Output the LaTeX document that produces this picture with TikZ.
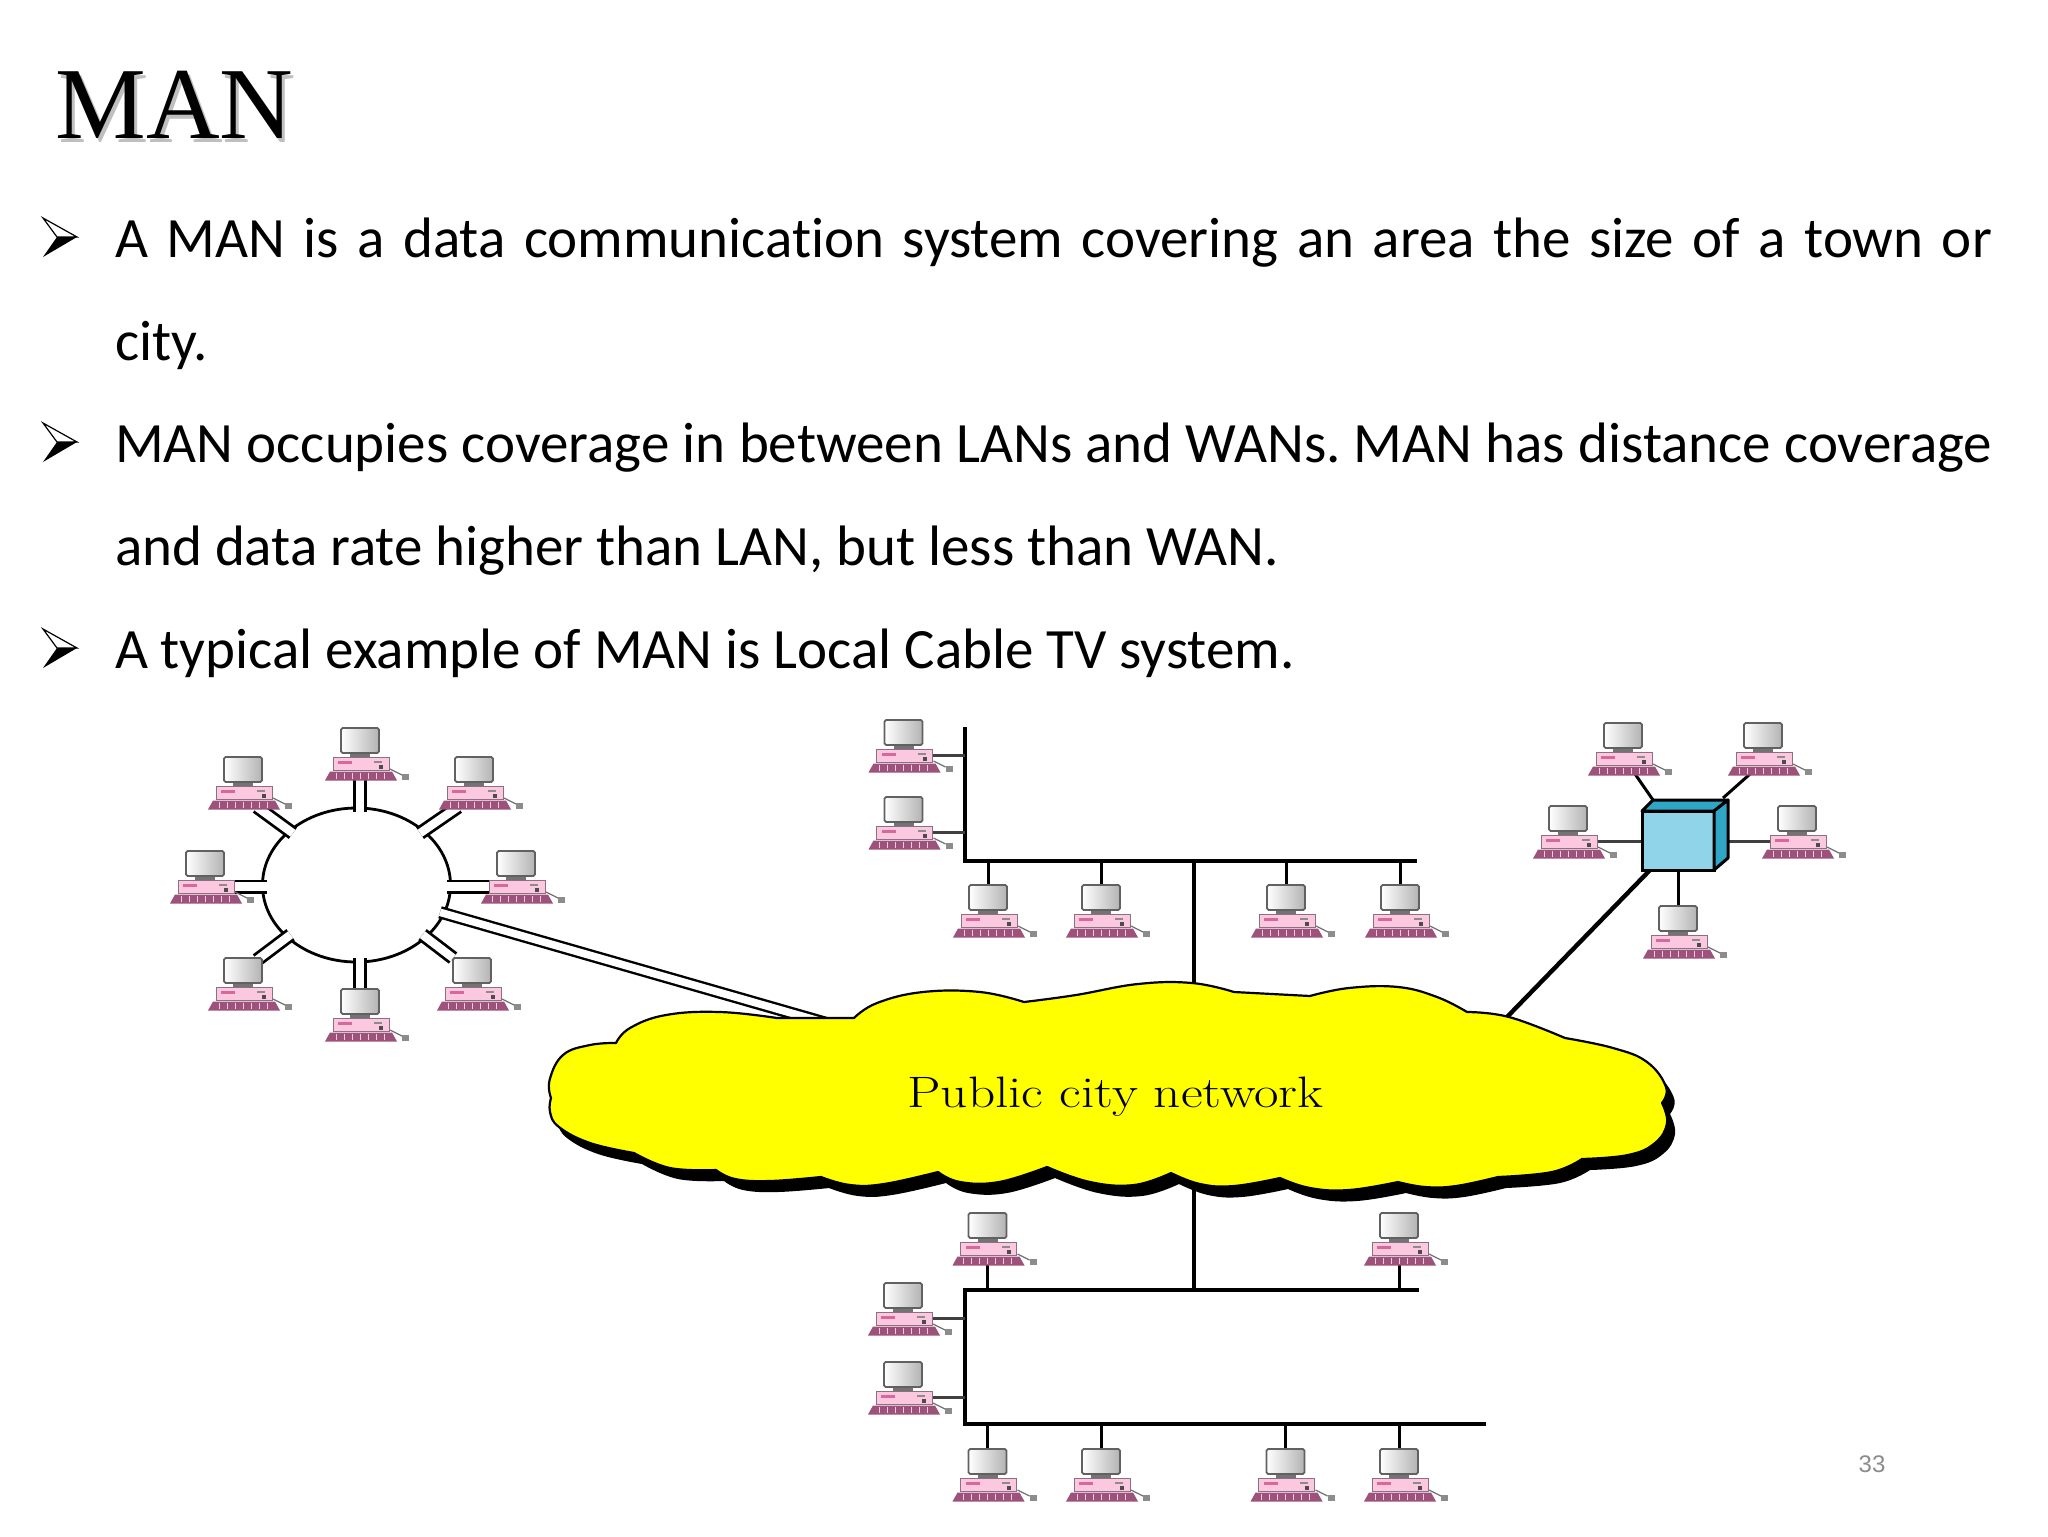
\documentclass[tikz,border=0pt]{standalone}
\usepackage{fontspec}
\usepackage{graphicx}
\setmainfont[Ligatures=NoCommon]{Carlito}
\newfontfamily\titlefont{Liberation Serif}
\newfontfamily\numfont{Liberation Sans}
\newfontfamily\lmfont{Latin Modern Roman}
\usetikzlibrary{shapes.geometric,backgrounds,calc}
\definecolor{kbdc}{HTML}{9C527A}
\definecolor{casec}{HTML}{FBC8E0}
\definecolor{caseb}{HTML}{8A7080}
\definecolor{barc}{HTML}{D8689C}
\definecolor{hubf}{HTML}{8FD4E8}
\definecolor{hubs}{HTML}{2FA6C6}
\definecolor{numc}{HTML}{8C8C8C}
\definecolor{cloudc}{HTML}{FFFF00}
\tikzset{
  monitorbox/.style={draw=black!62,line width=0.9pt,left color=white,right color=black!30,rounded corners=0.8pt,
    minimum width=19pt,minimum height=12.5pt,inner sep=0pt,outer sep=0pt},
  casebox/.style={draw=caseb,line width=0.45pt,fill=casec,minimum width=28pt,minimum height=6.5pt,inner sep=0pt,outer sep=0pt},
  txt/.style={anchor=base west,inner sep=0pt,outer sep=0pt,font=\fontsize{28.5}{34}\selectfont\frenchspacing},
  dbl/.style={draw=black,line width=1.4pt,double=white,double distance=4.2pt,line cap=butt},
  bus/.style={black,line width=2pt,miter limit=10},
  stub/.style={black,line width=1.5pt},
  thinstub/.style={black!75,line width=1.3pt},
  pc/.pic={
    \fill[black!55] (-10,24) rectangle (10,30);
    \node[monitorbox] (-mon) at (0,12.5) {};
    \node[casebox] (-case) at (1,35.5) {};
    \fill[barc] (-22,32.5) rectangle (-8,36);
    \fill[black!45] (14,33) rectangle (22,34.5);
    \fill[black!70] (19,37) rectangle (23,41);
    \fill[kbdc] (-35,52.5) -- (-30,43.5) -- (32,43.5) -- (37,52.5) -- cycle;
    \foreach \k in {-24,-16,...,24}{\draw[casec,line width=0.25pt] (\k,45) -- (\k,51);}
    \draw[black!55,line width=0.6pt] (30,41) -- (36,44) -- (42,47);
    \fill[black!45] (42,45.5) rectangle (49,51.5);
    \coordinate (-s) at (0,52);
  },
}
\newcommand{\cloudpath}{
  plot[smooth,tension=.7] coordinates {(551,1098)(549.6,1080)(563,1055)(590,1045)(616,1043)}
  -- plot[smooth,tension=.7] coordinates {(616,1043)(630,1028)(666,1015)(720,1012)(777,1018)}
  -- (854,1018)
  -- plot[smooth,tension=.7] coordinates {(854,1018)(877,1003)(923,992)(980,992)(1024,1002)}
  -- plot[smooth,tension=.7] coordinates {(1024,1002)(1076,995)(1138,984)(1192,983)(1234,992)}
  -- (1310,996)
  -- plot[smooth,tension=.7] coordinates {(1310,996)(1349,988)(1398,987)(1437,997)(1467,1012)}
  -- plot[smooth,tension=.7] coordinates {(1467,1012)(1509,1017)(1565,1038)}
  -- plot[smooth,tension=.7] coordinates {(1565,1038)(1613,1048)(1647,1062)(1666,1087)(1662,1103)}
  -- plot[smooth,tension=.7] coordinates {(1662,1103)(1667,1123)(1655,1143)(1628,1155)(1582,1159)}
  -- plot[smooth,tension=.7] coordinates {(1582,1159)(1552,1172)(1498,1177)}
  -- plot[smooth,tension=.7] coordinates {(1498,1177)(1456,1186)(1425,1187)(1398,1182)}
  -- plot[smooth,tension=.7] coordinates {(1398,1182)(1349,1190)(1310,1188)(1280,1178)}
  -- plot[smooth,tension=.7] coordinates {(1280,1178)(1234,1186)(1200,1184)(1171,1173)}
  -- plot[smooth,tension=.7] coordinates {(1171,1173)(1134,1185)(1090,1182)(1047,1167)}
  -- plot[smooth,tension=.7] coordinates {(1047,1167)(999,1182)(960,1182)(938,1172)}
  -- plot[smooth,tension=.7] coordinates {(938,1172)(884,1184)(850,1185)(821,1177)}
  -- plot[smooth,tension=.7] coordinates {(821,1177)(770,1181)(735,1179)(716,1170)}
  -- plot[smooth,tension=.7] coordinates {(716,1170)(670,1168)(634,1153)}
  -- plot[smooth,tension=.7] coordinates {(634,1153)(590,1143)(559,1127)(550,1112)(551,1098)}
  -- cycle
}
\begin{document}
\begin{tikzpicture}[x=0.5pt,y=-0.5pt]
\path[use as bounding box] (0,0) rectangle (2048,1536);

% title with soft shadow
\node[anchor=base west,inner sep=0,text=black!25,font=\titlefont\fontsize{51}{60}\selectfont] (titles) at (58,142) {MAN};
\node[anchor=base west,inner sep=0,text=black,font=\titlefont\fontsize{51}{60}\selectfont] (title) at (55,138) {MAN};

% bullets
\foreach \dy in {0,205,411}{
  \begin{scope}[yshift=-\dy*0.5pt]
    \draw[black,line width=0.6pt,line join=miter] (43,218) -- (77,237) -- (57,237) -- cycle;
    \fill[black] (43,257) -- (77,237) -- (57,237) -- cycle;
  \end{scope}
}

% text
\node[txt] (l1) at (115,257) {\hbox to 938.5pt{A MAN is a data communication system covering an area the size of a town or}};
\node[txt] (l2) at (115,360) {city.};
\node[txt] (l3) at (115,462.5) {\hbox to 938.5pt{MAN occupies coverage in between LANs and WANs. MAN has distance coverage}};
\node[txt] (l4) at (115,565) {and data rate higher than LAN, but less than WAN.};
\node[txt] (l5) at (115,668) {A typical example of MAN is Local Cable TV system.};

% ring computers
\pic (rT)  at (360,728) {pc};
\pic (rTL) at (243,757) {pc};
\pic (rTR) at (474,757) {pc};
\pic (rL)  at (205,851) {pc};
\pic (rR)  at (516,851) {pc};
\pic (rBL) at (243,958) {pc};
\pic (rBR) at (472,958) {pc};
\pic (rB)  at (360,989) {pc};

% upper bus computers
\pic (a1) at (903.5,720) {pc};
\pic (a2) at (903.5,797) {pc};
\pic (a3) at (988,885) {pc};
\pic (a4) at (1101,885) {pc};
\pic (a5) at (1286,885) {pc};
\pic (a6) at (1400,885) {pc};

% star computers
\pic (sTL) at (1623,723) {pc};
\pic (sTR) at (1763,723) {pc};
\pic (sL)  at (1568,806) {pc};
\pic (sR)  at (1797,806) {pc};
\pic (sB)  at (1678,906) {pc};

% lower bus computers
\pic (b1) at (987.5,1213) {pc};
\pic (b2) at (1399,1213) {pc};
\pic (b3) at (903,1283) {pc};
\pic (b4) at (903,1362) {pc};
\pic (b5) at (987.5,1449) {pc};
\pic (b6) at (1101,1449) {pc};
\pic (b7) at (1285.5,1449) {pc};
\pic (b8) at (1399,1449) {pc};

% junction coordinates
\coordinate (aT) at (965,727);
\coordinate (aC) at (965,861);
\coordinate (aE) at (1417,861);
\coordinate (aJ) at (1194,861);
\coordinate (cTop) at (1194,990);
\coordinate (cBot) at (1194,1180);
\coordinate (bJ) at (1194,1290);
\coordinate (bC) at (965,1290);
\coordinate (bE) at (1418.5,1290);
\coordinate (bD) at (965,1424);
\coordinate (bF) at (1486,1424);
\coordinate (cRing) at (840,1027);
\coordinate (cHub) at (1507,1017);

% ring and hub
\node[ellipse,minimum width=94pt,minimum height=77pt,inner sep=0pt,outer sep=0pt] (ring) at (356.5,885) {};
\node[draw=black,fill=hubf,line width=1.5pt,minimum width=36pt,minimum height=29.5pt,inner sep=0pt,outer sep=0pt] (hub) at (1678,840.5) {};
\filldraw[fill=hubs,draw=black,line width=1.5pt,line join=round] (hub.north west) -- ++(11,-11) -- ++(75,0) -- (hub.north east) -- cycle;
\filldraw[fill=hubs,draw=black,line width=1.5pt,line join=round] (hub.north east) -- ++(14,-11) -- ++(0,58) -- (hub.south east) -- cycle;

\begin{scope}[on background layer]
  \fill[white] (0,0) rectangle (2048,1536);
  \draw[black,line width=1.4pt] (ring.center) ellipse [x radius=94,y radius=77];
  % double connectors to the ring
  \draw[dbl,shorten >=-2pt] (rT-s) -- (rT-s |- ring.north);
  \draw[dbl,shorten >=-2pt] ($(rTL-s)+(14,-2)$) -- (ring.141);
  \draw[dbl,shorten >=-2pt] ($(rTR-s)+(-16,-2)$) -- (ring.39);
  \draw[dbl,shorten >=-2pt] (rL-case.east) -- (rL-case.east -| ring.west);
  \draw[dbl,shorten >=-2pt] (rR-case.west) -- (rR-case.west -| ring.east);
  \draw[dbl,shorten >=-2pt] ($(rBL-mon.north)+(14,2)$) -- (ring.217);
  \draw[dbl,shorten >=-2pt] ($(rBR-mon.north)+(-19,0)$) -- (ring.323);
  \draw[dbl,shorten >=-2pt] (rB-mon.north) -- (rB-mon.north |- ring.south);
  \draw[black,line width=1.2pt,double=white,double distance=3.8pt,shorten <=-2pt] (ring.-18) -- (cRing);
  % upper bus
  \draw[bus] (aT) -- (aC) -- (aE);
  \draw[bus] (aJ) -- (cTop);
  \draw[thinstub] (a1-case.east) -- (a1-case.east -| aC);
  \draw[thinstub] (a2-case.east) -- (a2-case.east -| aC);
  \foreach \n in {a3,a4,a5,a6}{\draw[stub] (\n-mon.north) -- (\n-mon.north |- aC);}
  % star
  \draw[stub] ($(sTL-s)+(12,-1)$) -- ($(hub.north west)+(11,-11)$);
  \draw[stub] ($(sTR-s)+(-13,-1)$) -- ($(hub.north east)+(9,-13)$);
  \draw[thinstub] (sL-case.east) -- (sL-case.east -| hub.west);
  \draw[thinstub] (sR-case.west) -- (sR-case.west -| hub.east);
  \draw[stub] (sB-mon.north) -- (sB-mon.north |- hub.south);
  \draw[black,line width=2.2pt] ($(hub.south west)+(8,0)$) -- (cHub);
  % lower bus
  \draw[bus] (bE) -- (bC) -- (bD) -- (bF);
  \draw[bus] (cBot) -- (bJ);
  \draw[stub] (b1-s) -- (b1-s |- bC);
  \draw[stub] (b2-s) -- (b2-s |- bC);
  \draw[thinstub] (b3-case.east) -- (b3-case.east -| bC);
  \draw[thinstub] (b4-case.east) -- (b4-case.east -| bC);
  \foreach \n in {b5,b6,b7,b8}{\draw[stub] (\n-mon.north) -- (\n-mon.north |- bD);}
\end{scope}

% cloud
\fill[black,shift={(8,11)}] \cloudpath;
\filldraw[fill=cloudc,draw=black,line width=1.1pt,line join=round] \cloudpath;
\node[anchor=base west,inner sep=0,font=\lmfont\fontsize{22}{26}\selectfont] (cloudlabel) at (907,1107) {\scalebox{1.21}[1]{Public city network}};

% page number
\node[inner sep=0,text=numc,font=\numfont\fontsize{12}{14}\selectfont] (page) at (1872,1464) {33};
\end{tikzpicture}
\end{document}
